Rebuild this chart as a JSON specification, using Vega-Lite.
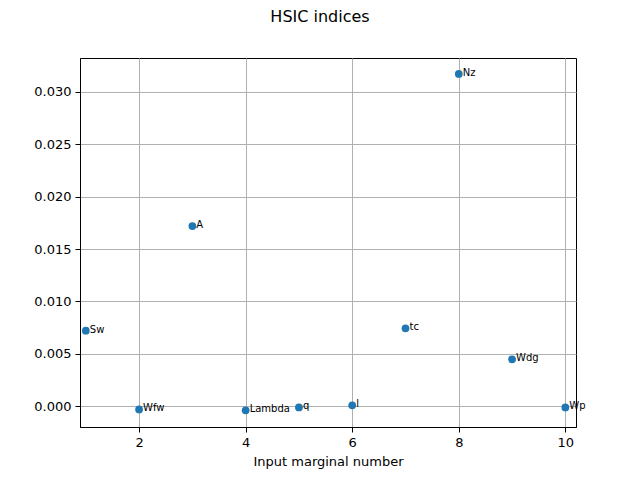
{
  "$schema": "https://vega.github.io/schema/vega-lite/v6.json",
  "autosize": {"type": "none"},
  "padding": {"left": 80, "top": 58, "right": 64, "bottom": 53},
  "width": 496,
  "height": 369,
  "background": "white",
  "title": {"text": "HSIC indices", "font": "DejaVu Sans", "fontSize": 16, "fontWeight": "normal", "color": "black", "anchor": "middle", "frame": "group", "dx": -8, "offset": 33},
  "data": {"values": [
    {"i": 1, "v": 0.00721, "name": "Sw"},
    {"i": 2, "v": -0.00029, "name": "Wfw"},
    {"i": 3, "v": 0.01719, "name": "A"},
    {"i": 4, "v": -0.00038, "name": "Lambda"},
    {"i": 5, "v": -0.0001, "name": "q"},
    {"i": 6, "v": 0.0001, "name": "l"},
    {"i": 7, "v": 0.00744, "name": "tc"},
    {"i": 8, "v": 0.03169, "name": "Nz"},
    {"i": 9, "v": 0.00448, "name": "Wdg"},
    {"i": 10, "v": -0.0001, "name": "Wp"}
  ]},
  "config": {
    "view": {"stroke": "black", "strokeWidth": 1},
    "axis": {"labelFont": "DejaVu Sans", "labelFontSize": 13, "labelColor": "black", "titleFont": "DejaVu Sans", "titleFontSize": 13, "titleFontWeight": "normal", "titleColor": "black", "domainColor": "black", "tickColor": "black", "tickSize": 5, "labelPadding": 4, "gridColor": "#b0b0b0", "gridWidth": 1, "gridOpacity": 1}
  },
  "encoding": {
    "x": {"field": "i", "type": "quantitative", "scale": {"domain": [0.891, 10.2], "nice": false, "zero": false}, "axis": {"values": [2, 4, 6, 8, 10], "title": "Input marginal number", "titlePadding": 6}},
    "y": {"field": "v", "type": "quantitative", "scale": {"domain": [-0.00197, 0.03321], "nice": false, "zero": false}, "axis": {"values": [0, 0.005, 0.01, 0.015, 0.02, 0.025, 0.03], "format": ".3f", "title": null}}
  },
  "layer": [
    {"mark": {"type": "circle", "opacity": 1, "size": 60, "color": "#1f77b4"}},
    {"mark": {"type": "text", "align": "left", "baseline": "middle", "dx": 4, "dy": -1, "font": "DejaVu Sans", "fontSize": 10, "color": "black"}, "encoding": {"text": {"field": "name"}}}
  ]
}
